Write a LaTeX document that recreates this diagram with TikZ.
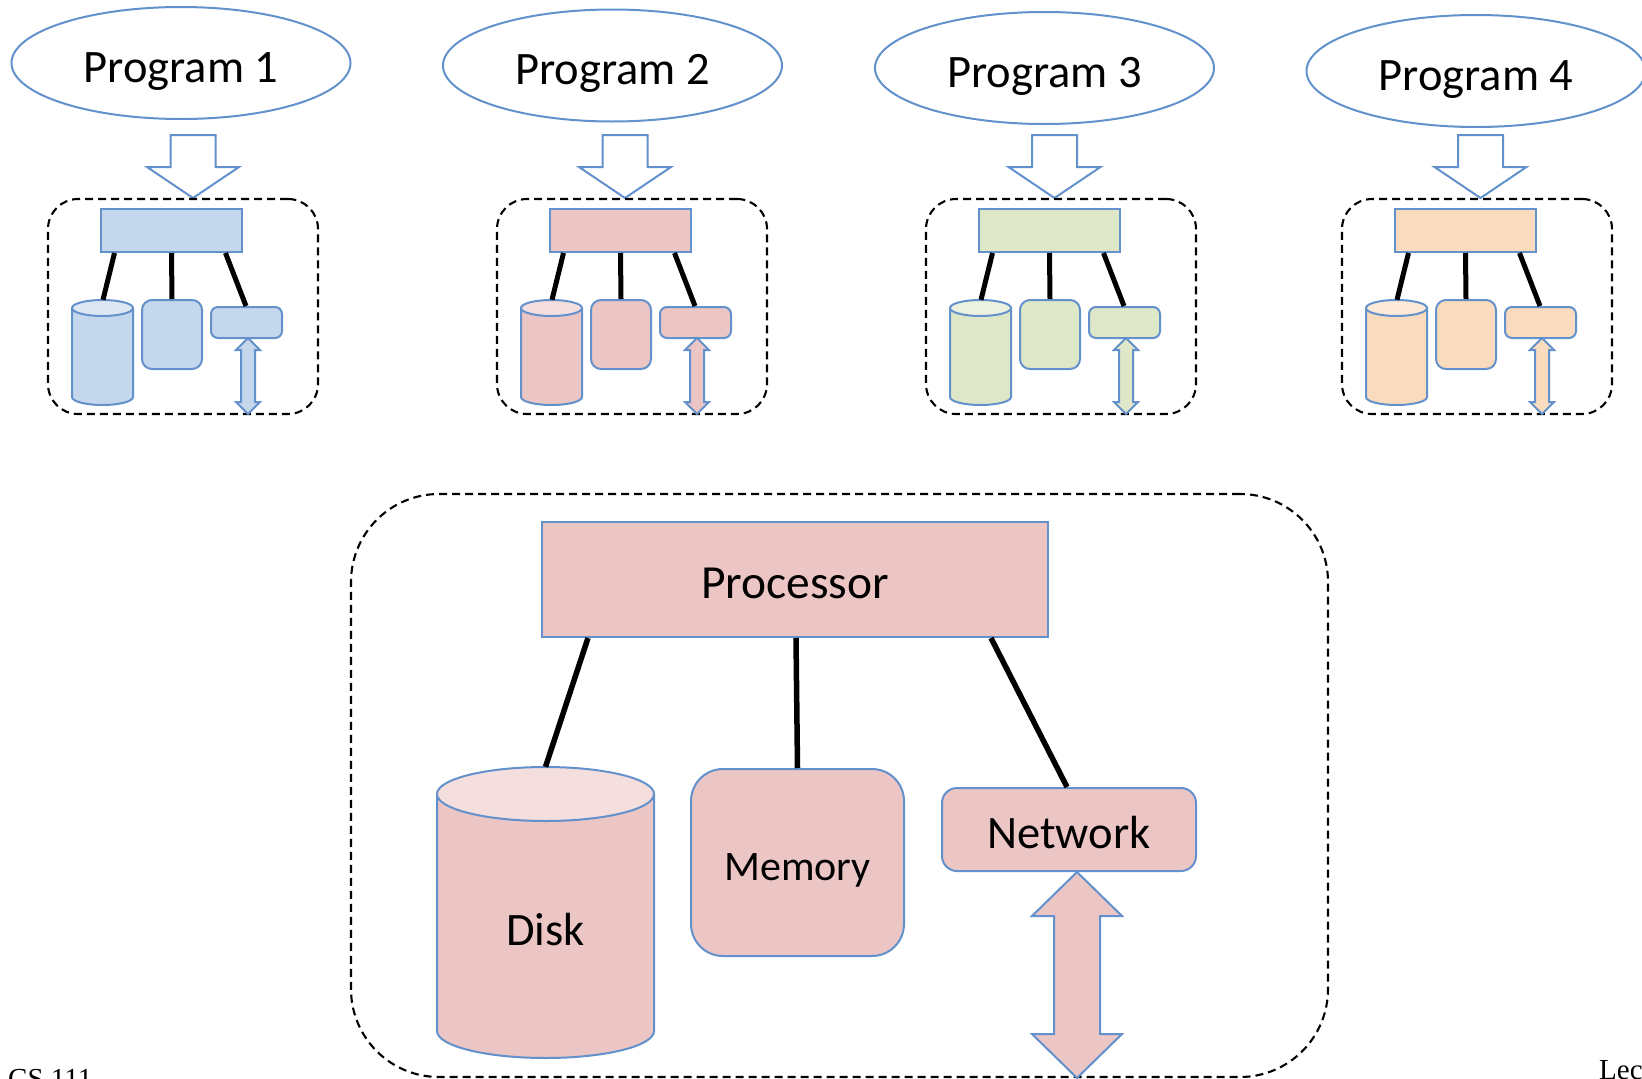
\documentclass[tikz,border=0pt]{standalone}
\usepackage{fontspec}
\setmainfont{Carlito}
\newfontfamily\footfont{Liberation Serif}
\usetikzlibrary{shapes.geometric,calc}
\definecolor{bl}{RGB}{98,145,203}
\definecolor{fblue}{RGB}{197,215,236}
\definecolor{tblue}{RGB}{222,232,245}
\definecolor{fpink}{RGB}{236,197,197}
\definecolor{tpink}{RGB}{245,222,222}
\definecolor{fgreen}{RGB}{222,231,200}
\definecolor{tgreen}{RGB}{236,241,224}
\definecolor{forange}{RGB}{251,219,190}
\definecolor{torange}{RGB}{253,233,215}
\tikzset{
 outl/.style={draw=bl, line width=2pt},
 boxn/.style={outl, rectangle, inner sep=0pt, anchor=center},
 dashbox/.style={draw=black, line width=2.1pt, dash pattern=on 8pt off 5pt, rectangle, inner sep=0pt},
 conn/.style={draw=black, line width=5pt},
 bigconn/.style={draw=black, line width=5.5pt},
 ghost/.style={rectangle, inner sep=0pt},
 bigfont/.style={font=\fontsize{46.5}{50}\selectfont},
 prog/.style={ellipse, outl, fill=white, minimum width=339pt, minimum height=112pt, inner sep=0pt, bigfont, text height=38pt, text depth=0pt},
}
% #1 idx, #2 L, #3 fill, #4 top fill, #5 arrow x, #6 ellipse cx, #7 ellipse cy
\newcommand\mkgroup[7]{%
 \node[prog] (e#1) at (#6,#7) {Program #1};
 \draw[outl, fill=white, line join=miter] (#5-22.5,135) -- (#5+22.5,135) -- (#5+22.5,167) -- (#5+46,167) -- (#5,198) -- (#5-46,167) -- (#5-22.5,167) -- cycle;
 \node[dashbox, minimum width=270pt, minimum height=215pt, rounded corners=30pt] (b#1) at (#2+135,306.5) {};
 \node[boxn, fill=#3, minimum width=141pt, minimum height=43pt] (p#1) at (#2+123,230.5) {};
 \fill[#3] (#2+24,308) -- (#2+24,397) arc[start angle=180,end angle=360,x radius=30.5pt,y radius=8pt] -- (#2+85,308) -- cycle;
 \draw[outl] (#2+24,308) -- (#2+24,397) arc[start angle=180,end angle=360,x radius=30.5pt,y radius=8pt] -- (#2+85,308);
 \draw[outl, fill=#4] (#2+54.5,308) ellipse [x radius=30.5pt, y radius=8pt];
 \node[ghost, minimum width=61pt, minimum height=105pt] (c#1) at (#2+54.5,352.5) {};
 \node[boxn, fill=#3, rounded corners=10pt, minimum width=60pt, minimum height=69pt] (m#1) at (#2+124,334.5) {};
 \node[boxn, fill=#3, rounded corners=7pt, minimum width=71pt, minimum height=31pt] (n#1) at (#2+198.5,322.5) {};
 \draw[conn] ($(p#1.south west)+(15,0)$) -- ($(c#1.north)+(0.5,0)$);
 \draw[conn] ($(p#1.south west)+(72,0)$) -- (m#1.north);
 \draw[conn] ($(p#1.south west)+(126,0)$) -- ($(n#1.north west)+(36,0)$);
 \draw[outl, fill=#3, line join=miter] (#2+200,338) -- (#2+212,350) -- (#2+207,350) -- (#2+207,402) -- (#2+212,402) -- (#2+200,414) -- (#2+188,402) -- (#2+193,402) -- (#2+193,350) -- (#2+188,350) -- cycle;
}
\begin{document}
\begin{tikzpicture}[x=1pt,y=-1pt]
\useasboundingbox (0,0) rectangle (1642,1079);
\mkgroup{1}{48}{fblue}{tblue}{193}{181}{63}
\mkgroup{2}{497}{fpink}{tpink}{625}{612.5}{65.5}
\mkgroup{3}{926}{fgreen}{tgreen}{1054.5}{1044.5}{68}
\mkgroup{4}{1342}{forange}{torange}{1480.5}{1476}{71}
% big machine
\node[dashbox, minimum width=977pt, minimum height=583pt, rounded corners=88pt] (B) at (839.5,785.5) {};
\node[boxn, fill=fpink, minimum width=506pt, minimum height=115pt, font=\fontsize{47.5}{50}\selectfont, text height=37pt, text depth=0pt] (P) at (795,579.5) {Processor};
\fill[fpink] (437,794) -- (437,1031) arc[start angle=180,end angle=360,x radius=108.5pt,y radius=27pt] -- (654,794) -- cycle;
\draw[outl] (437,794) -- (437,1031) arc[start angle=180,end angle=360,x radius=108.5pt,y radius=27pt] -- (654,794);
\draw[outl, fill=tpink] (545.5,794) ellipse [x radius=108.5pt, y radius=27pt];
\node[ghost, minimum width=217pt, minimum height=291pt, bigfont, text height=65pt, text depth=0pt] (D) at (545.5,912.5) {Disk};
\node[boxn, fill=fpink, rounded corners=32pt, minimum width=213pt, minimum height=187pt, font=\fontsize{42}{45}\selectfont, text height=35pt, text depth=0pt] (M) at (797.5,862.5) {Memory};
\node[boxn, fill=fpink, rounded corners=15pt, minimum width=254pt, minimum height=83pt, bigfont, text height=37pt, text depth=0pt] (N) at (1069,829.5) {Network};
\draw[bigconn] ($(P.south west)+(47,0)$) -- (D.north);
\draw[bigconn] ($(P.south west)+(255,0)$) -- (M.north);
\draw[bigconn] ($(P.south west)+(450,0)$) -- ($(N.north west)+(126,0)$);
\draw[outl, fill=fpink, line join=miter] (1077,872) -- (1122,916) -- (1100,916) -- (1100,1034) -- (1122,1034) -- (1077,1078) -- (1032,1034) -- (1054,1034) -- (1054,916) -- (1032,916) -- cycle;
% footers
\node[anchor=base west, inner sep=0pt, font=\footfont\fontsize{29}{32}\selectfont] (cs) at (8,1088) {CS 111};
\node[anchor=base west, inner sep=0pt, font=\footfont\fontsize{29}{32}\selectfont] (lec) at (1599,1079) {Lec};
\end{tikzpicture}
\end{document}
